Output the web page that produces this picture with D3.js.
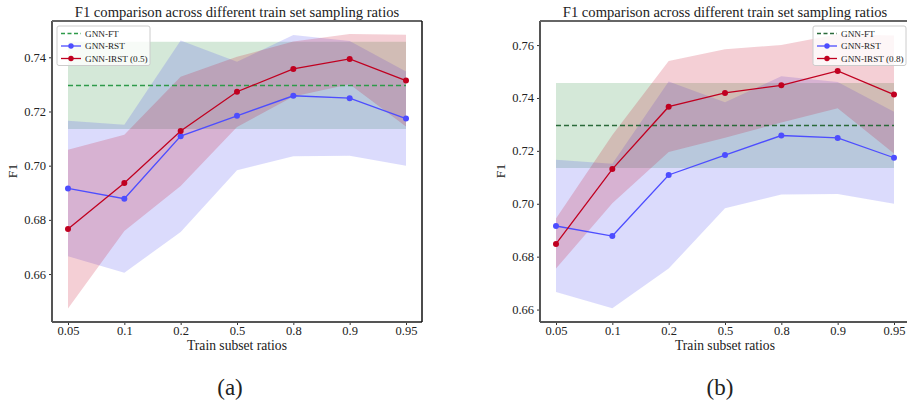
<!DOCTYPE html>
<html>
<head>
<meta charset="utf-8">
<script src="https://cdn.jsdelivr.net/npm/d3@7"></script>
<style>
  body { margin:0; background:#fff; }
  svg text { font-family: "Liberation Serif", "Times New Roman", Times, serif !important; fill:#222; }
</style>
</head>
<body>
<svg id="fig" width="907" height="403"></svg>
<script>
// ratios on the x axis (categorical)
var ratios = ["0.05","0.1","0.2","0.5","0.8","0.9","0.95"];

// GNN-FT: constant line + band
var ftMean = 0.7296, ftLow = 0.7135, ftHigh = 0.7457;

// GNN-RST (same in both panels)
var rstMean = [0.6916,0.6878,0.7109,0.7184,0.7258,0.7249,0.7174];
var rstLow  = [0.6666,0.6605,0.6755,0.6983,0.7035,0.7037,0.7000];
var rstHigh = [0.7166,0.7151,0.7462,0.7384,0.7482,0.7460,0.7348];

// GNN-IRST (0.5) -> panel a
var irstAMean = [0.6766,0.6936,0.7128,0.7273,0.7357,0.7394,0.7314];
var irstALow  = [0.6473,0.6759,0.6925,0.7143,0.7255,0.7301,0.7145];
var irstAHigh = [0.7059,0.7114,0.7328,0.7402,0.7458,0.7486,0.7483];

// GNN-IRST (0.8) -> panel b
var irstBMean = [0.6848,0.7131,0.7367,0.7419,0.7448,0.7502,0.7413];
var irstBLow  = [0.6755,0.7002,0.7196,0.7250,0.7307,0.7361,0.7190];
var irstBHigh = [0.6944,0.7260,0.7540,0.7584,0.7600,0.7641,0.7636];

var yTicksA = [0.66,0.68,0.70,0.72,0.74];
var yTicksB = [0.66,0.68,0.70,0.72,0.74,0.76];

var SERIF = '"Liberation Serif", "Times New Roman", serif';
var svg = d3.select("#fig");

function panel(cfg) {
  var g = svg.append("g").attr("font-family", SERIF);
  var x = d3.scalePoint().domain(ratios).range([cfg.left+16, cfg.right-16]);
  var y = d3.scaleLinear().domain(cfg.ydom).range([cfg.bottom, cfg.top]);

  var area = d3.area().x(function(d){return x(d.r);})
    .y0(function(d){return y(d.lo);}).y1(function(d){return y(d.hi);});
  var line = d3.line().x(function(d){return x(d.r);}).y(function(d){return y(d.v);});

  function rows(lo, hi) {
    return ratios.map(function(r,i){ return {r:r, lo:lo[i], hi:hi[i]}; });
  }
  function pts(v) {
    return ratios.map(function(r,i){ return {r:r, v:v[i]}; });
  }

  // bands
  var ftLo = ratios.map(function(){return ftLow;}), ftHi = ratios.map(function(){return ftHigh;});
  g.append("path").attr("d", area(rows(ftLo, ftHi))).attr("fill", "#2a8a3a").attr("fill-opacity", 0.2);
  g.append("path").attr("d", area(rows(rstLow, rstHigh))).attr("fill", "#4a4cf0").attr("fill-opacity", 0.2);
  g.append("path").attr("d", area(rows(cfg.irLow, cfg.irHigh))).attr("fill", "#c8102e").attr("fill-opacity", 0.2);

  // FT dashed line
  g.append("path").attr("d", line(pts(ratios.map(function(){return ftMean;}))))
    .attr("fill","none").attr("stroke", cfg.ftColor).attr("stroke-width",1.3).attr("stroke-dasharray","5,3");

  // RST
  g.append("path").attr("d", line(pts(rstMean))).attr("fill","none").attr("stroke","#4d4dff").attr("stroke-width",1.3);
  g.selectAll(".rst").data(pts(rstMean)).enter().append("circle")
    .attr("cx", function(d){return x(d.r);}).attr("cy", function(d){return y(d.v);})
    .attr("r", 3).attr("fill","#4d4dff");

  // IRST
  g.append("path").attr("d", line(pts(cfg.irMean))).attr("fill","none").attr("stroke","#c00020").attr("stroke-width",1.3);
  g.selectAll(".irst").data(pts(cfg.irMean)).enter().append("circle")
    .attr("cx", function(d){return x(d.r);}).attr("cy", function(d){return y(d.v);})
    .attr("r", 3).attr("fill","#c00020");

  // axes
  var xa = g.append("g").attr("transform","translate(0,"+cfg.bottom+")")
    .call(d3.axisBottom(x).tickSize(3).tickPadding(1));
  var ya = g.append("g").attr("transform","translate("+cfg.left+",0)")
    .call(d3.axisLeft(y).tickValues(cfg.yticks).tickFormat(d3.format(".2f")).tickSize(3).tickPadding(3));
  [xa, ya].forEach(function(a){
    a.attr("font-family", SERIF).attr("font-size", 12.5);
    a.select(".domain").remove();
    a.selectAll("line").attr("stroke","#333");
    a.selectAll("text").style("font-size","12.5px").attr("fill","#222");
  });

  // frame
  g.append("line").attr("x1",cfg.left).attr("x2",cfg.left).attr("y1",cfg.top).attr("y2",cfg.bottom).attr("stroke","#555").attr("stroke-width",2);
  g.append("line").attr("x1",cfg.left).attr("x2",cfg.right).attr("y1",cfg.bottom).attr("y2",cfg.bottom).attr("stroke","#555").attr("stroke-width",2);
  g.append("line").attr("x1",cfg.left).attr("x2",cfg.right).attr("y1",cfg.top).attr("y2",cfg.top).attr("stroke","#666").attr("stroke-width",2);
  g.append("line").attr("x1",cfg.right).attr("x2",cfg.right).attr("y1",cfg.top).attr("y2",cfg.bottom).attr("stroke","#111").attr("stroke-width",1.5);

  // texts
  g.append("text").attr("x", cfg.titleX).attr("y", 17).attr("text-anchor","middle")
    .style("font-size","14.6px").text("F1 comparison across different train set sampling ratios");
  g.append("text").attr("x", cfg.titleX).attr("y", 350).attr("text-anchor","middle")
    .style("font-size","13.6px").text("Train subset ratios");
  g.append("text").attr("transform","translate("+cfg.ylabX+",171) rotate(-90)").attr("text-anchor","middle")
    .style("font-size","13.5px").text("F1");
  g.append("text").attr("x", cfg.capX).attr("y", 395).attr("text-anchor","middle")
    .style("font-size","23px").text(cfg.caption);

  // legend
  var lg = g.append("g").attr("transform","translate("+cfg.legX+",26)");
  lg.append("rect").attr("x",0).attr("y",0).attr("width",93).attr("height",39.5)
    .attr("fill","#fff").attr("fill-opacity",0.8).attr("stroke","#ccc").attr("rx",2);
  var items = [
    {name:"GNN-FT", col:cfg.ftColor, dash:true},
    {name:"GNN-RST", col:"#4d4dff"},
    {name:cfg.irName, col:"#c00020"}
  ];
  items.forEach(function(it, i){
    var yy = 7.5 + i*12.5;
    lg.append("line").attr("x1",4).attr("x2",24).attr("y1",yy).attr("y2",yy)
      .attr("stroke",it.col).attr("stroke-width",1.3).attr("stroke-dasharray", it.dash ? "4,2.5" : null);
    if (!it.dash) lg.append("circle").attr("cx",14).attr("cy",yy).attr("r",2.7).attr("fill",it.col);
    lg.append("text").attr("x",28).attr("y",yy+3.3).style("font-size","9.2px").text(it.name);
  });
}

panel({left:52, right:422, top:21, bottom:322, ydom:[0.6423,0.7534], yticks:yTicksA,
  irMean:irstAMean, irLow:irstALow, irHigh:irstAHigh, irName:"GNN-IRST (0.5)",
  ftColor:"#2e9a4a", titleX:237, ylabX:17, capX:230, caption:"(a)", legX:57});

panel({left:540, right:910, top:21, bottom:322, ydom:[0.6553,0.7691], yticks:yTicksB,
  irMean:irstBMean, irLow:irstBLow, irHigh:irstBHigh, irName:"GNN-IRST (0.8)",
  ftColor:"#2a6a3a", titleX:725, ylabX:505, capX:720, caption:"(b)", legX:813});
</script>
</body>
</html>
